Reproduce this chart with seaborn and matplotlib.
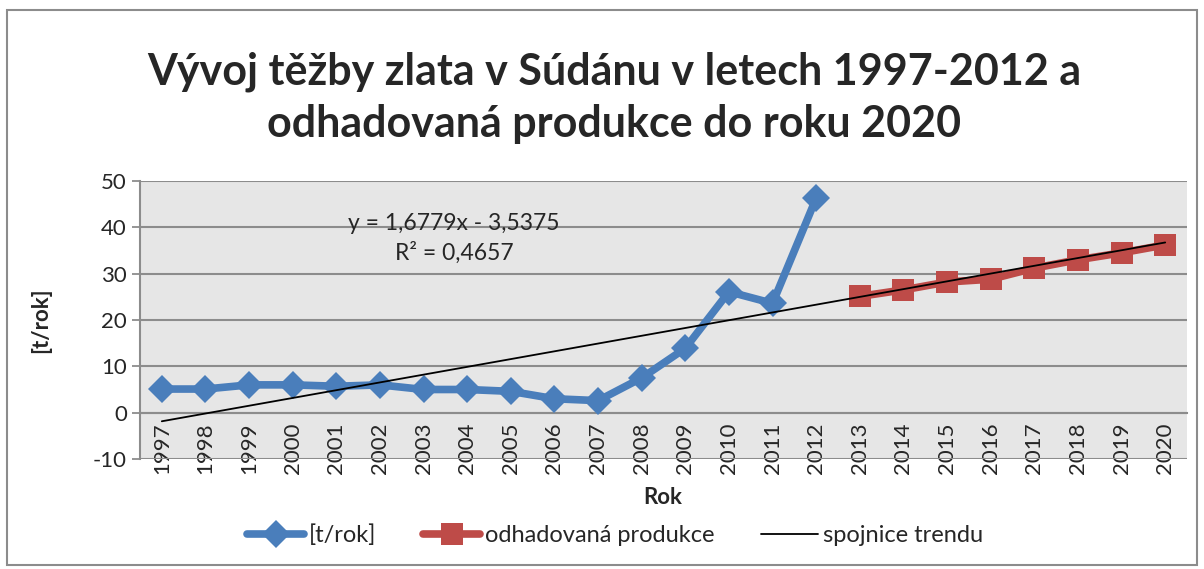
import numpy as np
import pandas as pd
import matplotlib
matplotlib.use("Agg")
import matplotlib.pyplot as plt
import seaborn as sns
from matplotlib.patches import Rectangle
from matplotlib.ticker import MultipleLocator, FixedLocator

roky_tezba = [1997, 1998, 1999, 2000, 2001, 2002, 2003, 2004, 2005, 2006, 2007, 2008, 2009, 2010, 2011, 2012]
tezba = [5.1, 5.1, 6.0, 6.0, 5.7, 6.0, 5.0, 5.0, 4.6, 3.0, 2.6, 7.5, 13.9, 26.1, 23.6, 46.3]

roky_odhad = [2013, 2014, 2015, 2016, 2017, 2018, 2019, 2020]
odhad = [25.1, 26.5, 28.2, 28.8, 31.2, 33.0, 34.5, 36.2]

trend_sklon = 1.6779
trend_posun = -3.5375

vsechny_roky = roky_tezba + roky_odhad

sns.set_style("white")
plt.rcParams['font.family'] = ['Lato', 'DejaVu Sans']
plt.rcParams['axes.unicode_minus'] = False

df1 = pd.DataFrame({'Rok': roky_tezba, 'hodnota': tezba})
df2 = pd.DataFrame({'Rok': roky_odhad, 'hodnota': odhad})
df_trend = pd.DataFrame({'Rok': vsechny_roky})
df_trend['hodnota'] = trend_sklon * np.arange(1, len(vsechny_roky) + 1) + trend_posun

fig = plt.figure(figsize=(12.04, 5.69), dpi=100)
ax = fig.add_axes([140/1204, 1 - 459/569, (1187 - 140)/1204, (459 - 181)/569])
ax.set_facecolor('#E6E6E6')

blue = '#4A7EBB'
red = '#BE4B48'

sns.lineplot(data=df1, x='Rok', y='hodnota', ax=ax, color=blue, linewidth=5.5,
             marker='D', markersize=14, markeredgewidth=0, label='[t/rok]', zorder=3)
sns.lineplot(data=df2, x='Rok', y='hodnota', ax=ax, color=red, linewidth=5.5,
             marker='s', markersize=16, markeredgewidth=0, label='odhadovaná produkce', zorder=3)
sns.lineplot(data=df_trend, x='Rok', y='hodnota', ax=ax, color='black', linewidth=1.3,
             label='spojnice trendu', zorder=4)

# osa x prochazi nulou (nejdriv pozice, pak styl - set_position resetuje ticky)
for s in ['top', 'right']:
    ax.spines[s].set_visible(False)
ax.spines['bottom'].set_position(('data', 0))
ax.spines['bottom'].set_color('#8C8C8C')
ax.spines['bottom'].set_linewidth(1.5)
ax.spines['left'].set_color('#8C8C8C')
ax.spines['left'].set_linewidth(1.5)

ax.set_xlim(vsechny_roky[0] - 0.5, vsechny_roky[-1] + 0.5)
ax.set_ylim(-10, 50)
ax.yaxis.set_major_locator(MultipleLocator(10))
ax.grid(axis='y', color='#8C8C8C', linewidth=1.5, zorder=0)
ax.set_axisbelow(True)

ax.set_xticks(vsechny_roky)
ax.set_xticklabels([str(r) for r in vsechny_roky])
ax.xaxis.set_minor_locator(FixedLocator(np.arange(vsechny_roky[0] - 0.5, vsechny_roky[-1] + 1, 1)))
ax.tick_params(axis='x', which='major', length=0, pad=7, labelsize=16, labelrotation=90)
ax.tick_params(axis='x', which='minor', length=6, color='#8C8C8C', width=1.3, direction='out')
ax.tick_params(axis='y', labelsize=16, length=6, color='#8C8C8C', width=1.3, left=True)

ax.set_ylabel('[t/rok]', fontsize=16, fontweight='bold', labelpad=30)
ax.set_xlabel('')
fig.text(663/1204, 1 - 497/569, 'Rok', ha='center', va='center', fontsize=16, fontweight='bold')

ax.text(2003.7, 37.6, 'y = 1,6779x - 3,5375\nR² = 0,4657', ha='center', va='center',
        fontsize=16.5, linespacing=1.4)

fig.text(0.51, 1 - 98/569, 'Vývoj těžby zlata v Súdánu v letech 1997-2012 a\nodhadovaná produkce do roku 2020',
         ha='center', va='center', fontsize=31, fontweight='bold', linespacing=1.35)

ax.legend(loc='center', bbox_to_anchor=((615 - 140) / 1047, (535 - 459) / (181 - 459)), ncol=3, frameon=False,
          fontsize=17, handlelength=2.4, columnspacing=2.0, handletextpad=0.2)

fig.patches.append(Rectangle((7/1204, 4/569), 1190/1204, 555/569, transform=fig.transFigure,
                             fill=False, edgecolor='#8C8C8C', linewidth=1.5))

fig.savefig('out.png', dpi=100)
